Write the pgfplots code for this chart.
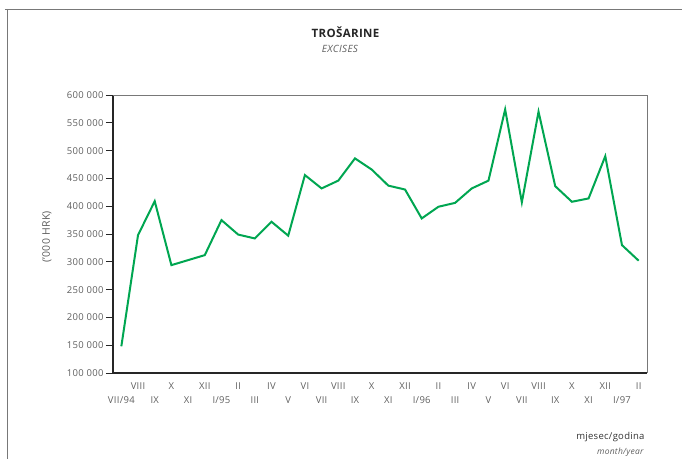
\documentclass[border=0pt]{standalone}
\usepackage{fontspec}
\setmainfont{Open Sans}[LetterSpace=3]
\usepackage{pgfplots}
\pgfplotsset{compat=1.18}
\definecolor{excgreen}{RGB}{0,166,81}
\definecolor{lblgray}{RGB}{95,95,95}
\definecolor{framegray}{RGB}{120,120,120}

\begin{document}
\begin{tikzpicture}
  \begin{axis}[
      width=534pt, height=278pt, scale only axis,
      xmin=-0.5, xmax=31.5,
      ymin=100000, ymax=600000,
      axis lines=left,
      axis line style={-, line width=1.4pt, black!85},
      xtick={1,3,...,31},
      xticklabels={VIII,X,XII,II,IV,VI,VIII,X,XII,II,IV,VI,VIII,X,XII,II},
      extra x ticks={0,2,...,30},
      extra x tick labels={VII/94,IX,XI,I/95,III,V,VII,IX,XI,I/96,III,V,VII,IX,XI,I/97},
      extra x tick style={xticklabel style={yshift=-14pt}},
      xtick style={draw=none},
      xticklabel style={anchor=base, yshift=-9pt},
      ytick={100000,150000,200000,250000,300000,350000,400000,450000,500000,550000,600000},
      yticklabels={100 000,150 000,200 000,250 000,300 000,350 000,400 000,450 000,500 000,550 000,600 000},
      scaled y ticks=false,
      ytick style={line width=0.9pt, black!85},
      tick align=outside,
      major tick length=7pt,
      tick label style={font=\fontsize{9.5}{11}\selectfont, text=lblgray},
      yticklabel style={xshift=1pt},
      clip=false,
    ]
    \coordinate (SW) at (rel axis cs:0,0);
    \draw[framegray, line width=0.9pt] (rel axis cs:0,1) -- (rel axis cs:1,1) -- (rel axis cs:1,0);
    \addplot[excgreen, line width=2pt, line join=miter] coordinates {
      (0,148000) (1,348000) (2,409000) (3,294000) (4,303000) (5,312000)
      (6,375000) (7,349000) (8,342000) (9,372000) (10,347000) (11,456000)
      (12,432000) (13,446000) (14,486000) (15,466000) (16,437000) (17,430000)
      (18,378000) (19,399000) (20,406000) (21,432000) (22,446000) (23,574000)
      (24,407000) (25,570000) (26,436000) (27,408000) (28,414000) (29,490000)
      (30,330000) (31,302000)
    };
  \end{axis}

  % page coordinates: 1pt = 1px, origin at the bottom left of the page
  \begin{scope}[shift={(SW)}, shift={(-113pt,-86pt)}, x=1pt, y=1pt]
    \path[use as bounding box] (0,0) rectangle (682,459);
    \draw[framegray, line width=0.9pt] (5,450) -- (682,450);
    \draw[framegray, line width=0.9pt] (7,450) -- (7,0);

    \node[font=\bfseries\fontsize{11.5}{13}\selectfont, text=black!85] at (345.5,427) {TROŠARINE};
    \node[font=\itshape\fontsize{10}{12}\selectfont, text=lblgray] at (340,410) {EXCISES};

    \node[rotate=90, font=\fontsize{10.5}{12}\selectfont, text=lblgray] at (47,222) {('000 HRK)};

    \node[anchor=base east, font=\fontsize{9.5}{11}\selectfont, text=black!80] at (648,20) {mjesec/godina};
    \node[anchor=base east, font=\itshape\fontsize{8.5}{10}\selectfont, text=lblgray] at (647,5) {month/year};
  \end{scope}
\end{tikzpicture}
\end{document}
